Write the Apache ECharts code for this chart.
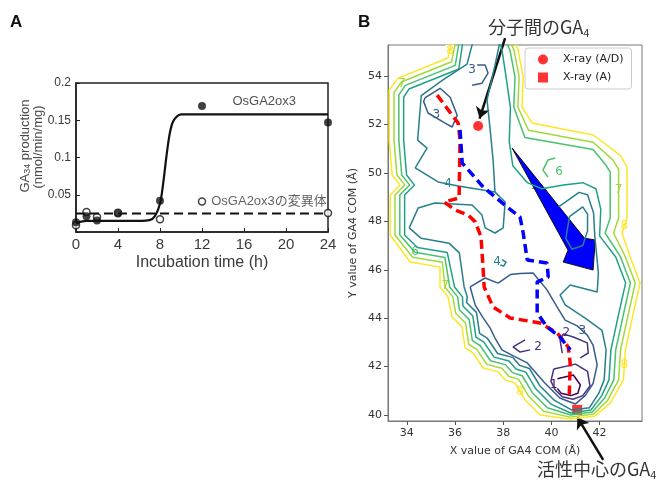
<!DOCTYPE html>
<html>
<head>
<meta charset="utf-8">
<script src="https://cdn.jsdelivr.net/npm/echarts@6/dist/echarts.min.js"></script>
<style>
  html, body { margin: 0; padding: 0; background: #fff; }
  #chart { width: 672px; height: 484px; }
</style>
</head>
<body>
<div id="chart"></div>
<script>
// ---- panel A: GA34 production vs incubation time
const HOURS = [0, 1, 2, 4, 8, 12, 24]
const WT_RATE = [0.013, 0.021, 0.0155, 0.025, 0.042, 0.169, 0.147]
const MUT_RATE = [0.009, 0.027, 0.020, 0.026, 0.017, null, 0.0255]
const FIT_T = [0, 0.5, 1, 3, 6, 7, 7.5, 8, 8.3, 8.6, 8.9, 9.2, 9.6, 10, 12, 24]
const FIT_WT = [0.012, 0.014, 0.015, 0.015, 0.015, 0.016, 0.021, 0.038, 0.065, 0.1, 0.13, 0.147, 0.155, 0.158, 0.158, 0.158]
const FIT_MUT_T = [0, 24]
const FIT_MUT = [0.025, 0.025]
const MUT_KEY = [12, 0.041]
const WT_TAG = [14.9, 0.175]

// ---- panel B: contour lines (x, y in Å), levels 1..8
const LEVEL_COLORS = ['#440154', '#46327e', '#365c8d', '#277f8e', '#1fa187', '#4ac16d', '#a0da39', '#fde725']
const L8 = [[35.88,55.45],[35.71,54.75],[33.64,53.92],[33.27,53.43],[33.27,51.36],[33.39,49.92],[33.72,49.5],[33.31,49.09],[33.31,47.44],[34.14,46.32],[35.38,46.11],[35.38,45.29],[35.71,44.88],[35.88,44.05],[36.29,43.64],[36.42,42.77],[36.75,42.56],[37.17,41.94],[37.79,41.78],[38.08,41.45],[38.49,41.32],[38.91,40.62],[39.53,40.0],[40.78,39.83],[41.82,39.96],[42.45,40.5],[42.99,41.45],[43.07,42.69],[43.4,44.21],[43.68,45.45],[43.27,46.53],[42.93,47.52],[43.14,48.14],[43.14,50.25],[42.85,50.74],[41.73,51.57],[39.2,52.07],[38.78,52.73],[38.83,53.97],[38.62,55.08],[38.45,55.45]]
const L7 = [[36.03,55.45],[35.86,54.6],[33.79,53.77],[33.47,53.33],[33.47,51.36],[33.59,49.92],[33.92,49.5],[33.51,49.09],[33.51,47.44],[34.24,46.52],[35.48,46.31],[35.58,45.29],[35.91,44.88],[36.03,44.2],[36.44,43.79],[36.57,42.92],[36.9,42.71],[37.32,42.09],[37.94,41.93],[38.23,41.6],[38.64,41.47],[39.06,40.77],[39.68,40.15],[40.78,39.91],[41.76,40.04],[42.33,40.6],[42.79,41.45],[42.87,42.69],[43.2,44.21],[43.48,45.45],[43.07,46.53],[42.58,47.52],[42.79,48.14],[42.79,50.15],[42.55,50.54],[41.73,51.27],[39.05,51.77],[38.61,52.73],[38.66,53.97],[38.45,55.08],[38.28,55.45]]
const L6 = [[36.18,55.45],[36.01,54.45],[33.94,53.62],[33.67,53.23],[33.67,51.36],[33.79,49.92],[34.12,49.5],[33.71,49.09],[33.71,47.44],[34.34,46.72],[35.58,46.51],[35.78,45.29],[36.11,44.88],[36.18,44.35],[36.59,43.94],[36.72,43.07],[37.05,42.86],[37.47,42.24],[38.09,42.08],[38.38,41.75],[38.79,41.62],[39.21,40.92],[39.83,40.3],[40.8,40.0],[41.7,40.12],[42.21,40.7],[42.59,41.45],[42.67,42.69],[43.0,44.21],[43.28,45.45],[42.87,46.53],[42.23,47.52],[42.44,48.14],[42.44,50.05],[42.25,50.34],[41.73,50.97],[38.9,51.47],[38.44,52.73],[38.49,53.97],[38.28,55.08],[38.11,55.45]]
const L6_ISLAND = [[40.16,50.62],[39.86,50.54],[39.65,50.12],[39.86,49.83]]
const L5 = [[36.33,55.45],[36.16,54.3],[34.09,53.47],[33.87,53.13],[33.87,51.36],[33.99,49.92],[34.32,49.5],[33.91,49.09],[33.91,47.44],[34.44,46.92],[35.68,46.71],[35.98,45.29],[36.31,44.88],[36.33,44.5],[36.74,44.09],[36.87,43.22],[37.2,43.01],[37.62,42.39],[38.24,42.23],[38.53,41.9],[38.94,41.77],[39.36,41.07],[39.98,40.45],[40.8,40.08],[41.64,40.2],[42.09,40.8],[42.39,41.45],[42.47,42.69],[42.8,44.21],[43.08,45.45],[42.67,46.53],[42.0,47.4],[42.05,48.5],[41.85,49.35],[41.3,49.6],[40.5,49.5],[39.6,49.35],[39.0,49.6],[38.4,50.3],[38.25,51.3],[38.3,52.7],[38.12,53.97],[37.95,55.08],[37.85,55.45]]
const L4_UP = [[36.75,55.45],[36.5,54.5],[35.5,53.85],[34.6,53.2],[34.45,51.36],[34.84,51.03],[34.35,50.21],[35.3,49.63],[36.13,49.46],[37.66,49.21],[37.58,50.54],[37.46,51.78],[37.33,53.02],[37.66,54.46],[37.87,55.45]]
const L4_MID = [[34.1,47.73],[34.47,48.55],[35.17,48.76],[36.71,48.68],[37.12,48.26],[37.25,47.73],[37.66,47.52],[38.0,47.73],[38.08,48.8],[37.66,49.21]]
const L4_LOW = [[34.1,47.73],[34.6,47.3],[35.75,47.1],[36.18,46.7],[36.38,45.29],[36.51,44.88],[36.48,44.65],[36.89,44.24],[37.02,43.37],[37.35,43.16],[37.77,42.54],[38.39,42.38],[38.68,42.05],[39.09,41.92],[39.51,41.22],[40.13,40.6],[40.85,40.2],[41.58,40.3],[41.97,40.9],[42.19,41.45],[42.27,42.69],[42.1,43.5],[41.4,44.0],[40.57,44.55],[40.36,44.96],[40.78,45.37],[41.9,45.08],[41.95,45.87],[41.8,47.4],[41.75,48.35],[41.5,49.1],[41.15,49.2],[40.3,48.6]]
const L4_LOOP = [[40.75,48.2],[41.3,48.6],[41.5,48.3],[41.5,47.6],[41.3,47.0],[40.85,46.85],[40.6,47.3],[40.75,48.2]]
const L4_HOOK = [[37.95,46.42],[38.12,46.32],[38.02,46.15],[37.88,46.2]]
const L3_HOOK = [[36.92,54.46],[37.25,54.46],[37.37,54.13],[37.12,53.71],[36.71,53.63]]
const L3_LOOP = [[34.75,53.1],[35.38,53.5],[35.8,53.13],[36.09,52.39],[35.88,51.9],[35.59,52.06],[34.88,52.48],[34.7,52.95],[34.75,53.1]]
const L3_BASIN = [[36.63,45.29],[37.25,45.66],[37.79,45.45],[38.3,45.8],[38.7,45.85],[39.24,45.87],[39.82,45.17],[40.24,44.46],[40.57,43.92],[41.07,43.68],[41.49,43.3],[41.73,42.89],[41.9,42.07],[41.73,41.3],[41.4,40.8],[40.99,40.45],[40.35,40.7],[39.7,41.35],[39.0,42.15],[38.5,42.4],[37.95,42.69],[37.66,43.18],[37.46,43.59],[37.17,44.01],[36.84,44.54],[36.63,45.29]]
const L2_BRACKET = [[38.91,43.1],[38.41,42.81],[38.7,42.6],[39.12,42.69]]
const L2_UPPER = [[40.45,42.56],[40.36,43.1],[40.5,43.35],[40.91,43.22],[41.49,42.98],[41.53,42.56],[41.2,42.36]]
const L2_RING = [[40.1,41.9],[41.0,42.1],[41.5,41.8],[41.6,41.2],[41.3,40.8],[40.9,40.65],[40.45,40.75],[40.15,41.05],[39.98,41.4],[40.1,41.9]]
const L1 = [[40.25,41.5],[40.91,41.65],[41.2,41.25],[41.1,40.9],[40.8,40.8],[40.4,40.9],[40.25,41.1]]
const CONTOURS = [
  [8, L8], [7, L7], [6, L6], [6, L6_ISLAND], [5, L5],
  [4, L4_UP], [4, L4_MID], [4, L4_LOW], [4, L4_LOOP], [4, L4_HOOK],
  [3, L3_HOOK], [3, L3_LOOP], [3, L3_BASIN],
  [2, L2_BRACKET], [2, L2_UPPER], [2, L2_RING], [1, L1]
]
// contour labels: x, y, level
const LABELS = [[35.8,55.05,8],[33.79,53.7,7],[36.71,54.26,3],[35.22,52.42,3],[35.71,49.55,4],[39.3,49.48,5],[40.32,50.04,6],[42.79,49.3,7],[43.03,47.83,8],[34.34,46.72,6],[35.6,45.35,7],[37.75,46.32,4],[39.45,42.81,2],[40.62,43.4,2],[41.28,43.49,3],[40.1,41.25,1],[38.7,40.97,8],[43.03,42.07,8]]

const RED_PATH = [[35.26,53.22],[36.13,52.06],[36.21,51.36],[36.17,48.97],[35.55,48.8],[36.0,48.47],[36.55,48.26],[36.84,47.98],[37.08,47.36],[37.17,45.99],[37.21,45.29],[37.58,44.46],[38.29,44.01],[39.53,43.8],[40.24,43.39],[40.7,42.81],[40.78,42.15],[40.74,40.74]]
const BLUE_PATH = [[36.21,51.78],[36.3,50.41],[37.17,49.42],[38.17,48.59],[38.7,48.18],[38.83,47.52],[39.0,46.4],[39.82,46.28],[39.87,45.7],[39.41,45.5],[39.41,44.21],[39.82,43.64],[40.36,43.22],[40.78,42.69]]
const ARROW = [[38.37,51.03],[41.37,47.31],[41.82,47.23],[41.73,45.99],[40.49,46.32],[40.69,46.81]]
const XRAY_AD = [[36.96,51.94]]
const XRAY_A = [[41.07,40.21]]
const NOTE_TOP = [[38.08,55.57],[37.02,52.25]]
const NOTE_BOTTOM = [[42.15,38.14],[41.08,39.9]]
const B_TICKS_X = [34, 36, 38, 40, 42]
const B_TICKS_Y = [40, 42, 44, 46, 48, 50, 52, 54]

const chart = echarts.init(document.getElementById('chart'))
const fontA = 'Liberation Sans, Arial, sans-serif'
const fontB = 'DejaVu Sans, sans-serif'
const fontJP = 'Noto Sans CJK JP, sans-serif'

const zip = (xs, ys) => xs.map((x, i) => [x, ys[i]]).filter(p => p[1] !== null)

const contourSeries = CONTOURS.map(([lvl, pts]) => ({
  type: 'line',
  xAxisIndex: 1,
  yAxisIndex: 1,
  data: pts,
  showSymbol: false,
  symbol: 'none',
  silent: true,
  lineStyle: { color: LEVEL_COLORS[lvl - 1], width: 1.5 }
}))

const option = {
  animation: false,
  backgroundColor: '#fff',
  grid: [
    { left: 76, top: 83, width: 252, height: 149, show: true, borderColor: '#222', borderWidth: 1.5 },
    { left: 388, top: 45, width: 254, height: 376, show: true, borderColor: '#777', borderWidth: 1 }
  ],
  xAxis: [
    {
      gridIndex: 0,
      type: 'value',
      min: 0,
      max: 24,
      interval: 4,
      splitLine: { show: false },
      axisLine: { lineStyle: { color: '#222', width: 1.5 } },
      axisTick: { inside: true, length: 4, lineStyle: { color: '#222' } },
      axisLabel: { fontSize: 15, color: '#3a3a3a', fontFamily: fontA, margin: 5 },
      name: 'Incubation time (h)',
      nameLocation: 'middle',
      nameGap: 23,
      nameTextStyle: { fontSize: 16, color: '#3a3a3a', fontFamily: fontA }
    },
    {
      gridIndex: 1,
      type: 'value',
      min: 33.22,
      max: 43.76,
      splitLine: { show: false },
      axisLine: { lineStyle: { color: '#777' } },
      axisTick: { length: 4, lineStyle: { color: '#555' }, customValues: B_TICKS_X },
      axisLabel: { fontSize: 11, color: '#333', fontFamily: fontB, margin: 7, customValues: B_TICKS_X },
      name: 'X value of GA4 COM (Å)',
      nameLocation: 'middle',
      nameGap: 25,
      nameTextStyle: { fontSize: 11, color: '#333', fontFamily: fontB }
    }
  ],
  yAxis: [
    {
      gridIndex: 0,
      type: 'value',
      min: 0,
      max: 0.2,
      interval: 0.05,
      splitLine: { show: false },
      axisLine: { lineStyle: { color: '#222', width: 1.5 } },
      axisTick: { inside: true, length: 4, lineStyle: { color: '#222' } },
      axisLabel: {
        fontSize: 12,
        color: '#3a3a3a',
        fontFamily: fontA,
        margin: 5,
        formatter: v => (v === 0 ? '' : String(v))
      }
    },
    {
      gridIndex: 1,
      type: 'value',
      min: 39.75,
      max: 55.29,
      splitLine: { show: false },
      axisLine: { lineStyle: { color: '#777' } },
      axisTick: { length: 4, lineStyle: { color: '#555' }, customValues: B_TICKS_Y },
      axisLabel: { fontSize: 11, color: '#333', fontFamily: fontB, margin: 6, customValues: B_TICKS_Y },
      name: 'Y value of GA4 COM (Å)',
      nameLocation: 'middle',
      nameRotate: 90,
      nameGap: 29,
      nameTextStyle: { fontSize: 11, color: '#333', fontFamily: fontB }
    }
  ],
  legend: {
    data: [{ name: 'X-ray (A/D)', icon: 'circle' }, { name: 'X-ray (A)', icon: 'rect' }],
    orient: 'vertical',
    left: 525,
    top: 48,
    itemWidth: 10,
    itemHeight: 10,
    itemGap: 7,
    padding: [6, 8, 6, 13],
    backgroundColor: '#fff',
    borderColor: '#ccc',
    borderWidth: 1,
    borderRadius: 3,
    textStyle: { fontSize: 11, color: '#222', fontFamily: fontB, padding: [0, 0, 0, 10] }
  },
  series: [
    // panel A
    {
      type: 'line',
      data: zip(FIT_T, FIT_WT),
      smooth: 0.3,
      showSymbol: false,
      symbol: 'none',
      lineStyle: { color: '#111', width: 2.2 }
    },
    {
      type: 'line',
      data: zip(FIT_MUT_T, FIT_MUT),
      showSymbol: false,
      symbol: 'none',
      lineStyle: { color: '#111', width: 2, type: [9, 5] }
    },
    {
      type: 'scatter',
      data: zip(HOURS, MUT_RATE),
      symbol: 'circle',
      symbolSize: 7,
      itemStyle: { color: '#fff', borderColor: '#111', borderWidth: 1.5 }
    },
    {
      type: 'scatter',
      data: zip(HOURS, WT_RATE),
      symbol: 'circle',
      symbolSize: 8,
      itemStyle: { color: '#111' }
    },
    {
      type: 'scatter',
      data: [MUT_KEY],
      symbol: 'circle',
      symbolSize: 7,
      itemStyle: { color: '#fff', borderColor: '#111', borderWidth: 1.5 },
      label: {
        show: true,
        position: 'right',
        distance: 5,
        formatter: 'OsGA2ox3の変異体',
        fontSize: 13,
        color: '#3a3a3a',
        fontFamily: 'Liberation Sans, Noto Sans CJK JP, sans-serif'
      }
    },
    {
      type: 'scatter',
      data: [WT_TAG],
      symbolSize: 0,
      label: {
        show: true,
        position: 'right',
        distance: 0,
        formatter: 'OsGA2ox3',
        fontSize: 13,
        color: '#222',
        fontFamily: fontA
      }
    },
    // panel B contours
    ...contourSeries,
    {
      type: 'custom',
      xAxisIndex: 1,
      yAxisIndex: 1,
      data: LABELS,
      silent: true,
      renderItem: (params, api) => {
        const p = api.coord([api.value(0), api.value(1)])
        const lvl = api.value(2)
        return {
          type: 'text',
          x: p[0],
          y: p[1],
          style: {
            text: String(lvl),
            fill: LEVEL_COLORS[lvl - 1],
            font: '12px ' + fontB,
            align: 'center',
            verticalAlign: 'middle',
            backgroundColor: '#fff',
            padding: [0, 1]
          }
        }
      }
    },
    {
      type: 'line',
      xAxisIndex: 1,
      yAxisIndex: 1,
      data: RED_PATH,
      showSymbol: false,
      symbol: 'none',
      lineStyle: { color: '#ff0000', width: 3.5, type: [9, 5] }
    },
    {
      type: 'line',
      xAxisIndex: 1,
      yAxisIndex: 1,
      data: BLUE_PATH,
      showSymbol: false,
      symbol: 'none',
      lineStyle: { color: '#0000ff', width: 3.5, type: [9, 5] }
    },
    {
      type: 'custom',
      xAxisIndex: 1,
      yAxisIndex: 1,
      data: [ARROW[0]],
      silent: true,
      renderItem: (params, api) => ({
        type: 'polygon',
        shape: { points: ARROW.map(p => api.coord(p)) },
        style: { fill: '#0000ff', stroke: '#111', lineWidth: 1 }
      })
    },
    {
      name: 'X-ray (A/D)',
      type: 'scatter',
      xAxisIndex: 1,
      yAxisIndex: 1,
      data: XRAY_AD,
      symbol: 'circle',
      symbolSize: 10,
      itemStyle: { color: '#ff0000' }
    },
    {
      name: 'X-ray (A)',
      type: 'scatter',
      xAxisIndex: 1,
      yAxisIndex: 1,
      data: XRAY_A,
      symbol: 'rect',
      symbolSize: 10,
      itemStyle: { color: '#ff0000' }
    },
    {
      type: 'lines',
      coordinateSystem: 'cartesian2d',
      xAxisIndex: 1,
      yAxisIndex: 1,
      clip: false,
      symbol: ['none', 'arrow'],
      symbolSize: 11,
      lineStyle: { color: '#111', width: 2.5, opacity: 1 },
      data: [{ coords: NOTE_TOP }, { coords: NOTE_BOTTOM }]
    }
  ],
  graphic: [
    { type: 'text', x: 10, y: 22, style: { text: 'A', font: 'bold 17px ' + fontA, fill: '#111', verticalAlign: 'middle' } },
    { type: 'text', x: 358, y: 22, style: { text: 'B', font: 'bold 17px ' + fontA, fill: '#111', verticalAlign: 'middle' } },
    {
      type: 'text',
      x: 25,
      y: 146,
      rotation: Math.PI / 2,
      style: {
        text: '{a|GA}{s|34}{a| production}',
        align: 'center',
        verticalAlign: 'middle',
        rich: {
          a: { fontSize: 13, fontFamily: fontA, fill: '#4a4a4a', lineHeight: 15 },
          s: { fontSize: 9, fontFamily: fontA, fill: '#4a4a4a', lineHeight: 10, verticalAlign: 'bottom' }
        }
      }
    },
    {
      type: 'text',
      x: 38,
      y: 147,
      rotation: Math.PI / 2,
      style: { text: '(nmol/min/mg)', font: '13px ' + fontA, fill: '#4a4a4a', align: 'center', verticalAlign: 'middle' }
    },
    {
      type: 'text',
      x: 488,
      y: 27,
      style: {
        text: '{a|分子間のGA}{s|4}',
        verticalAlign: 'middle',
        rich: {
          a: { fontSize: 18, fontFamily: fontJP, fill: '#333', lineHeight: 22 },
          s: { fontSize: 11, fontFamily: fontJP, fill: '#333', lineHeight: 12, verticalAlign: 'bottom' }
        }
      }
    },
    {
      type: 'text',
      x: 537,
      y: 469,
      style: {
        text: '{a|活性中心のGA}{s|4}',
        verticalAlign: 'middle',
        rich: {
          a: { fontSize: 18, fontFamily: fontJP, fill: '#333', lineHeight: 22 },
          s: { fontSize: 11, fontFamily: fontJP, fill: '#333', lineHeight: 12, verticalAlign: 'bottom' }
        }
      }
    }
  ]
}

chart.setOption(option)
</script>
</body>
</html>
